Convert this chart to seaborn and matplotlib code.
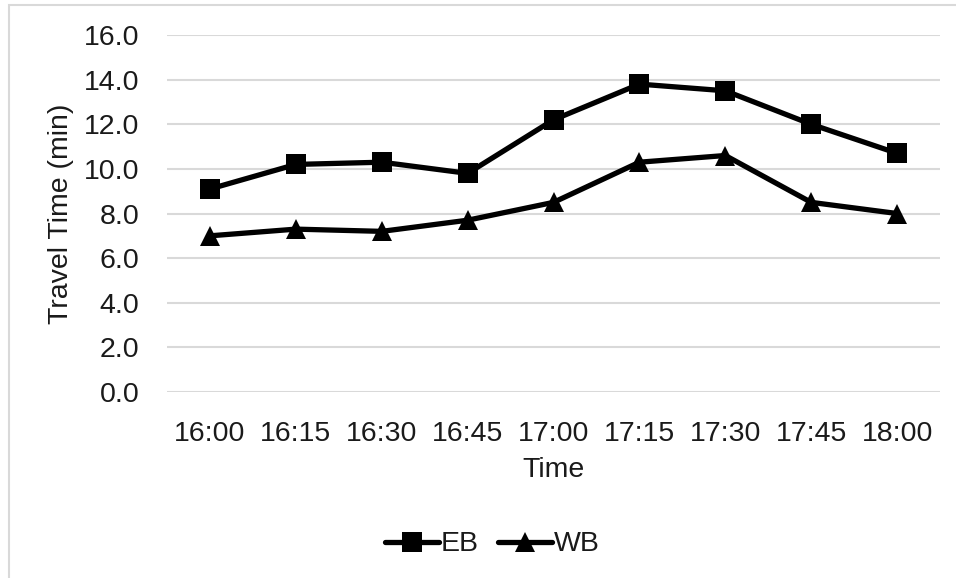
import matplotlib
matplotlib.use("Agg")
import matplotlib.pyplot as plt
import matplotlib.patches as mpatches
import seaborn as sns
import pandas as pd

# Travel time by 15-minute interval, eastbound and westbound
times = ["16:00", "16:15", "16:30", "16:45", "17:00", "17:15", "17:30", "17:45", "18:00"]
eb = [9.1, 10.2, 10.3, 9.8, 12.2, 13.8, 13.5, 12.0, 10.7]
wb = [7.0, 7.3, 7.2, 7.7, 8.5, 10.3, 10.6, 8.5, 8.0]
y_ticks = [0, 2, 4, 6, 8, 10, 12, 14, 16]

df = pd.DataFrame({"Time": times * 2,
                   "Travel": eb + wb,
                   "Dir": ["EB"] * len(times) + ["WB"] * len(times)})
df["x"] = list(range(len(times))) * 2

sns.set_theme(style="white")
plt.rcParams["font.family"] = ["Liberation Sans", "DejaVu Sans"]

FS = 20.5
TXT = "#1a1a1a"
LW = 3.8

fig = plt.figure(figsize=(9.56, 5.78), dpi=100)
ax = fig.add_axes([0.1747, 0.3218, 0.8086, 0.6176])

grid_c = "#d9d9d9"
for t in y_ticks:
    ax.axhline(t, color=grid_c, lw=1.5, zorder=0)

sns.lineplot(data=df, x="x", y="Travel", hue="Dir", style="Dir",
             palette={"EB": "black", "WB": "black"},
             markers={"EB": "s", "WB": "^"}, dashes=False,
             markersize=15, linewidth=LW, ax=ax, legend=False,
             markeredgewidth=0, zorder=3)

ax.set_xlim(-0.5, len(times) - 0.5)
ax.set_ylim(0, 16)
ax.set_xticks(range(len(times)))
ax.set_xticklabels(times)
ax.set_yticks(y_ticks)
ax.set_yticklabels([f"{v:.1f}" for v in y_ticks])
ax.tick_params(axis="both", labelsize=FS, colors=TXT, length=0)
ax.tick_params(axis="y", pad=20)
ax.tick_params(axis="x", pad=21)
for s in ax.spines.values():
    s.set_visible(False)

ax.set_xlabel("Time", fontsize=FS, color=TXT, labelpad=7)
ax.set_ylabel("Travel Time (min)", fontsize=FS, color=TXT, labelpad=7)

handles = [
    plt.Line2D([], [], color="black", lw=LW, marker="s", markersize=15, markeredgewidth=0),
    plt.Line2D([], [], color="black", lw=LW, marker="^", markersize=15, markeredgewidth=0),
]
fig.legend(handles, ["EB", "WB"], loc="center", bbox_to_anchor=(0.515, 0.058),
           ncol=2, frameon=False, fontsize=FS, handlelength=1.9,
           handletextpad=0.05, columnspacing=0.7, labelcolor=TXT)

# Outer chart border
fig.patches.append(mpatches.Rectangle((8.5 / 956, -0.1), 1.2, 1 - 5.5 / 578 + 0.1,
                                      transform=fig.transFigure, fill=False,
                                      edgecolor=grid_c, lw=1.5))

fig.savefig("out.png", dpi=100)
